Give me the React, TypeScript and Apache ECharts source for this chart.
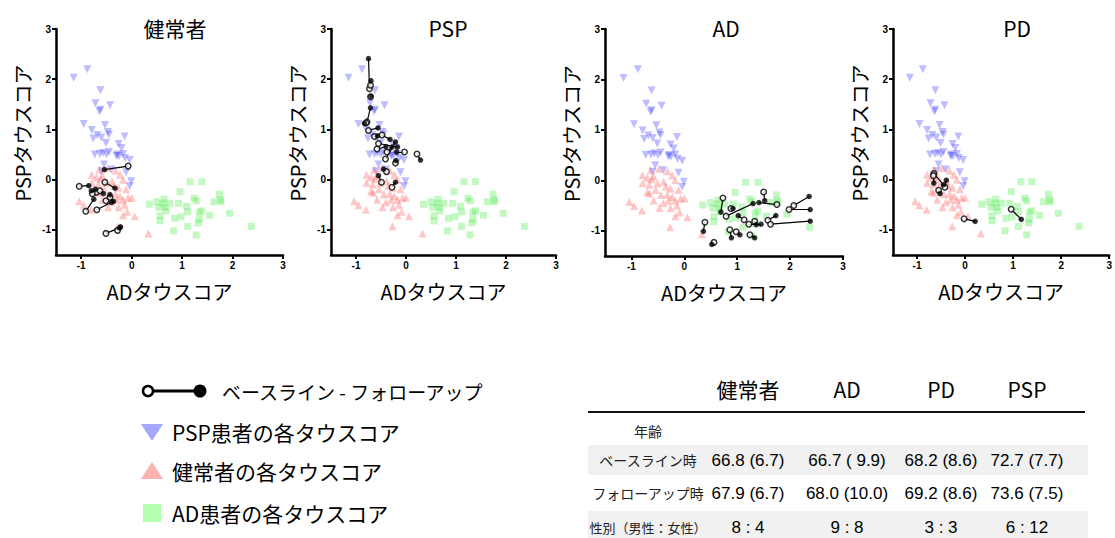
import React, { useEffect, useRef } from "react";
import * as echarts from "echarts";

const panelTitles = ["健常者", "PSP", "AD", "PD"];
const tickValues = [-1, 0, 1, 2, 3];
const xAxisName = "ADタウスコア";
const yAxisName = "PSPタウスコア";

// background scores (same in every panel)
const pspScores: number[][] = [
  [-1.15, 2.03], [-0.88, 2.2], [-0.62, 1.78], [-0.72, 1.52], [-0.62, 1.39], [-0.64, 1.36],
  [-0.43, 1.48], [-0.95, 1.11], [-0.79, 0.99], [-0.53, 1.09], [-0.68, 0.89], [-0.47, 0.95],
  [-0.45, 0.9], [-0.76, 0.82], [-0.6, 0.84], [-0.51, 0.73], [-0.14, 0.86], [-0.26, 0.71],
  [-0.2, 0.63], [-0.73, 0.5], [-0.57, 0.53], [-0.5, 0.5], [-0.29, 0.5], [-0.25, 0.47],
  [-0.17, 0.51], [-0.04, 0.39], [-0.13, 0.43], [-0.6, 0.17], [-0.4, 0.2], [-0.11, 0.15],
  [-0.01, -0.03], [-0.04, -0.13], [-0.63, 0.51], [-0.3, 0.47], [-0.55, 0.3], [-0.45, 0.55],
];
const controlScores: number[][] = [
  [-0.64, 0.2], [-0.48, 0.23], [-0.79, 0.1], [-0.7, 0.05], [-0.58, 0.08], [-0.32, 0.18],
  [-0.23, 0.1], [-0.79, -0.06], [-0.66, -0.09], [-0.51, -0.06], [-0.39, -0.03], [-0.17, 0.0],
  [-0.7, -0.23], [-0.54, -0.19], [-0.35, -0.12], [-0.26, -0.16], [-0.11, -0.19], [-0.44, -0.29],
  [-0.32, -0.28], [-0.23, -0.33], [-0.17, -0.4], [-0.07, -0.36], [-0.66, -0.26], [-1.04, -0.43],
  [-0.95, -0.51], [-0.8, -0.6], [-0.47, -0.55], [-0.26, -0.55], [-0.14, -0.5], [0.0, -0.36],
  [-0.17, -0.71], [-0.09, -0.64], [0.06, -0.73], [-0.27, -0.93], [0.33, -1.07], [-0.4, -0.45],
  [-0.58, -0.4], [-0.3, -0.4], [-0.62, 0.02],
];
const adScores: number[][] = [
  [1.16, -0.04], [1.39, -0.04], [0.96, -0.24], [1.74, -0.29], [0.35, -0.49], [0.5, -0.44],
  [0.64, -0.39], [0.76, -0.47], [0.93, -0.47], [1.24, -0.37], [1.28, -0.42], [1.63, -0.44],
  [1.77, -0.44], [0.54, -0.55], [0.66, -0.55], [0.68, -0.62], [1.09, -0.53], [1.39, -0.62],
  [1.34, -0.65], [1.11, -0.64], [1.94, -0.67], [1.55, -0.71], [0.56, -0.72], [0.56, -0.82],
  [0.85, -0.77], [0.98, -0.74], [1.34, -0.79], [1.32, -0.86], [1.11, -0.93], [0.83, -1.02],
  [1.28, -1.1], [2.37, -0.93], [0.62, -0.47], [1.76, -0.4],
];

// baseline / follow-up pairs per panel
const controlBaseline: number[][] = [
  [-0.07, 0.27], [-1.04, -0.13], [-0.53, -0.05], [-0.7, -0.25], [-0.63, -0.22], [-0.51, -0.42],
  [-0.43, -0.35], [-0.91, -0.63], [-0.69, -0.6], [-0.51, -1.07], [-0.28, -1.01], [-0.78, -0.28],
];
const controlFollowup: number[][] = [
  [-0.54, 0.2], [-0.85, -0.12], [-0.33, -0.17], [-0.72, -0.19], [-0.56, -0.28], [-0.43, -0.3],
  [-0.36, -0.43], [-0.75, -0.39], [-0.4, -0.45], [-0.24, -0.96], [-0.22, -0.94], [-0.8, -0.22],
];
const pspBaseline: number[][] = [
  [-0.73, 1.81], [-0.71, 1.88], [-0.71, 1.65], [-0.78, 1.15], [-0.75, 0.98], [-0.63, 0.86],
  [-0.58, 0.61], [-0.38, 0.55], [-0.03, 0.55], [-0.21, 0.33], [-0.41, 0.41], [0.22, 0.51],
  [-0.39, 0.16], [-0.49, -0.05], [-0.28, -0.15], [-0.8, 1.13], [-0.48, 0.89], [-0.55, 0.72],
];
const pspFollowup: number[][] = [
  [-0.75, 2.41], [-0.7, 1.97], [-0.7, 1.66], [-0.71, 1.43], [-0.56, 1.03], [-0.57, 0.87],
  [-0.4, 0.66], [-0.28, 0.65], [-0.19, 0.55], [-0.2, 0.38], [-0.21, 0.75], [0.29, 0.39],
  [-0.45, 0.21], [-0.55, 0.08], [-0.21, -0.05], [-0.83, 1.12], [-0.32, 0.8], [-0.17, 0.65],
];
const adBaseline: number[][] = [
  [0.39, -0.83], [0.56, -1.23], [0.73, -0.35], [0.79, -0.71], [0.88, -0.56], [1.13, -0.78],
  [0.86, -0.98], [1.24, -1.08], [1.5, -0.23], [1.75, -0.48], [1.33, -0.81], [1.58, -0.79],
  [1.63, -0.87], [1.98, -0.58], [2.07, -0.5], [1.22, -0.87], [0.98, -1.02],
];
const adFollowup: number[][] = [
  [0.36, -1.01], [0.52, -1.27], [0.69, -0.63], [1.3, -0.46], [0.92, -0.56], [1.02, -0.7],
  [0.89, -1.14], [1.33, -1.14], [1.52, -0.4], [1.41, -0.44], [1.36, -0.88], [1.73, -0.7],
  [2.38, -0.81], [2.38, -0.58], [2.36, -0.32], [1.45, -0.87], [1.05, -1.08],
];
const pdBaseline: number[][] = [
  [-0.65, 0.12], [-0.42, -0.15], [-0.55, -0.21], [-0.66, 0.08], [-0.02, -0.78], [0.96, -0.59],
];
const pdFollowup: number[][] = [
  [-0.45, -0.1], [-0.39, -0.01], [-0.52, -0.28], [-0.65, -0.07], [0.21, -0.83], [1.17, -0.79],
];

const legendLabels = ["ベースライン - フォローアップ", "PSP患者の各タウスコア", "健常者の各タウスコア", "AD患者の各タウスコア"];

const tableHeaders = ["健常者", "AD", "PD", "PSP"];
const tableRowLabels = ["年齢", "ベースライン時", "フォローアップ時", "性別（男性：女性）"];
const baselineAges = ["66.8 (6.7)", "66.7 ( 9.9)", "68.2 (8.6)", "72.7 (7.7)"];
const followupAges = ["67.9 (6.7)", "68.0 (10.0)", "69.2 (8.6)", "73.6 (7.5)"];
const sexRatios = ["8 : 4", "9 : 8", "3 : 3", "6 : 12"];

const BLUE = "rgba(80,80,255,0.47)";
const RED = "rgba(255,90,90,0.42)";
const GREEN = "rgba(90,235,90,0.45)";
const JP = "'Noto Sans CJK JP', 'Noto Sans', sans-serif";
const NUM = "'Liberation Sans', Arial, sans-serif";

const panelPairs = [
  [controlBaseline, controlFollowup],
  [pspBaseline, pspFollowup],
  [adBaseline, adFollowup],
  [pdBaseline, pdFollowup],
];

const grids = [
  { left: 56, top: 29, width: 227, height: 226 },
  { left: 331, top: 29, width: 225, height: 226 },
  { left: 605, top: 29, width: 238, height: 227 },
  { left: 893, top: 29, width: 225, height: 226 },
];
const titleCenters = [170, 443, 721, 1012];

export default function App() {
  const ref = useRef<HTMLDivElement>(null);
  useEffect(() => {
    if (!ref.current) return;
    const chart = echarts.init(ref.current, null, { renderer: "svg" });

    const axisCommon = (name: string, gap: number, padding: number[]) => ({
      type: "value",
      min: -1.5,
      max: 3,
      name,
      nameLocation: "middle",
      nameGap: gap,
      nameTextStyle: { fontSize: 20, fontFamily: JP, color: "#000", padding },
      axisLine: { show: true, onZero: false, lineStyle: { color: "#000", width: 2.5 } },
      axisTick: { show: true, customValues: tickValues, length: 4, lineStyle: { color: "#000", width: 2 } },
      axisLabel: { customValues: tickValues, fontSize: 10, fontWeight: "bold", color: "#000", fontFamily: NUM, margin: 5 },
      splitLine: { show: false },
    });

    const series: any[] = [];
    panelPairs.forEach(([base, fu], i) => {
      const common = { xAxisIndex: i, yAxisIndex: i };
      series.push({ ...common, type: "scatter", data: pspScores, symbol: "triangle", symbolRotate: 180, symbolSize: 8, itemStyle: { color: BLUE }, z: 2 });
      series.push({ ...common, type: "scatter", data: controlScores, symbol: "triangle", symbolSize: 8, itemStyle: { color: RED }, z: 2 });
      series.push({ ...common, type: "scatter", data: adScores, symbol: "rect", symbolSize: 7, itemStyle: { color: GREEN }, z: 2 });
      series.push({
        ...common,
        type: "lines",
        coordinateSystem: "cartesian2d",
        data: base.map((b, k) => ({ coords: [b, fu[k]] })),
        lineStyle: { color: "#000", width: 1.2, opacity: 1 },
        z: 3,
      });
      series.push({ ...common, type: "scatter", data: base, symbol: "circle", symbolSize: 5.5, itemStyle: { color: "#fff", borderColor: "#000", borderWidth: 1.5 }, z: 4 });
      series.push({ ...common, type: "scatter", data: fu, symbol: "circle", symbolSize: 5.5, itemStyle: { color: "#000" }, z: 5 });
    });

    const graphic: any[] = [];
    // legend
    graphic.push({ type: "line", shape: { x1: 148, y1: 391, x2: 198, y2: 391 }, style: { stroke: "#000", lineWidth: 3 } });
    graphic.push({ type: "circle", shape: { cx: 148, cy: 391, r: 5 }, style: { fill: "#fff", stroke: "#000", lineWidth: 2.5 } });
    graphic.push({ type: "circle", shape: { cx: 200, cy: 391, r: 6.5 }, style: { fill: "#000" } });
    graphic.push({ type: "polygon", shape: { points: [[141, 424], [163, 424], [152, 441]] }, style: { fill: "rgba(150,150,255,0.85)" } });
    graphic.push({ type: "polygon", shape: { points: [[152, 462], [163, 479], [141, 479]] }, style: { fill: "rgba(255,170,170,0.9)" } });
    graphic.push({ type: "rect", shape: { x: 143, y: 504, width: 18, height: 18 }, style: { fill: "rgba(170,255,170,0.9)" } });
    const legendY = [391, 432, 471, 513];
    legendLabels.forEach((t, k) => {
      graphic.push({
        type: "text",
        style: { text: t, x: k === 0 ? 222 : 172, y: legendY[k], fontSize: k === 0 ? 19 : 21, fontFamily: JP, fill: "#000", align: "left", verticalAlign: "middle", textAlign: "left", textVerticalAlign: "middle" },
      });
    });

    // table
    const colX = [748, 847, 941, 1027];
    graphic.push({ type: "rect", shape: { x: 588, y: 445, width: 500, height: 30 }, style: { fill: "#f1f1f1" } });
    graphic.push({ type: "rect", shape: { x: 588, y: 511, width: 500, height: 27 }, style: { fill: "#f1f1f1" } });
    graphic.push({ type: "line", shape: { x1: 588, y1: 412, x2: 1085, y2: 412 }, style: { stroke: "#111", lineWidth: 2 } });
    tableHeaders.forEach((t, k) => {
      graphic.push({ type: "text", style: { text: t, x: colX[k], y: 389, fontSize: 21, fontFamily: JP, fill: "#000", align: "center", verticalAlign: "middle", textAlign: "center", textVerticalAlign: "middle" } });
    });
    const rowY = [431, 460, 493, 527];
    tableRowLabels.forEach((t, k) => {
      graphic.push({ type: "text", style: { text: t, x: 648, y: rowY[k], fontSize: k === 3 ? 13 : 14, fontFamily: JP, fill: "#222", align: "center", verticalAlign: "middle", textAlign: "center", textVerticalAlign: "middle" } });
    });
    [baselineAges, followupAges, sexRatios].forEach((row, r) => {
      row.forEach((t, k) => {
        graphic.push({ type: "text", style: { text: t, x: colX[k], y: rowY[r + 1], fontSize: 17, fontFamily: NUM, fill: "#000", align: "center", verticalAlign: "middle", textAlign: "center", textVerticalAlign: "middle" } });
      });
    });

    chart.setOption({
      animation: false,
      backgroundColor: "#fff",
      title: panelTitles.map((t, i) => ({
        text: t,
        left: titleCenters[i],
        top: 12,
        textAlign: "center",
        textStyle: { fontSize: 21, fontWeight: "normal", fontFamily: JP, color: "#000" },
      })),
      grid: grids.map((g) => ({ ...g, containLabel: false })),
      xAxis: grids.map((_, i) => ({ ...axisCommon(xAxisName, 26, [0, 0, 0, 0]), gridIndex: i })),
      yAxis: grids.map((_, i) => ({ ...axisCommon(yAxisName, 24, [0, 0, 0, 18]), gridIndex: i })),
      series,
      graphic,
    });
    return () => chart.dispose();
  }, []);
  return <div ref={ref} style={{ position: "absolute", left: 0, top: 0, width: 1115, height: 538 }} />;
}
